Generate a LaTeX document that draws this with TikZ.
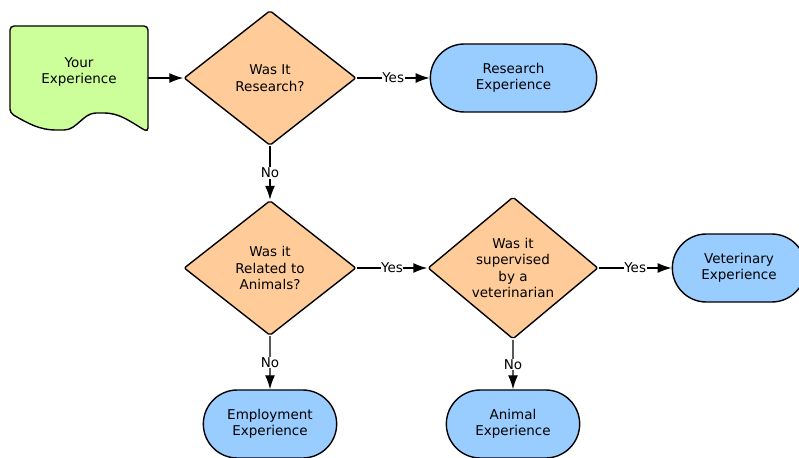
\documentclass[tikz,border=0pt]{standalone}
\usepackage{fontspec}
\setmainfont{DejaVu Sans}
\usetikzlibrary{arrows.meta,shapes.geometric,shapes.misc}
\definecolor{docgreen}{RGB}{204,255,153}
\definecolor{askorange}{RGB}{255,204,153}
\definecolor{endblue}{RGB}{153,204,255}
\tikzset{
	ask/.style={diamond, draw, fill=askorange, line width=1.4pt, rounded corners=2pt, minimum width=172pt, minimum height=135pt, inner sep=0pt, align=center},
	goal/.style={rounded rectangle, draw, fill=endblue, line width=1.4pt, minimum width=140pt, minimum height=68pt, align=center},
	flow/.style={line width=1.4pt, -{Latex[length=14pt,width=10pt]}},
	lbl/.style={fill=white, inner sep=0.5pt},
}

\begin{document}
\begin{tikzpicture}[x=1pt, y=-1pt, font=\fontsize{13.5}{16.5}\selectfont]
			%%%%% START %%%%%
			\useasboundingbox (0,0) rectangle (799,457);
			
			% the document shape
			\draw[fill=docgreen, line width=1.4pt, rounded corners=4pt] (10,113) -- (10,26) -- (148,26) -- (148,132)
				to[out=150, in=0] (100,113) to[out=180, in=0] (60,130) to[out=180, in=-30] (10,113) -- cycle;
			\node[align=center, minimum width=138pt, minimum height=92pt, inner sep=0pt] (start) at (79,72) {Your\\Experience};
			
			% questions
			\node[ask] (q1) at (270,78) {Was It\\Research?};
			\node[ask] (q2) at (270,268) {Was it\\Related to\\Animals?};
			\node[ask, minimum width=170pt] (q3) at (513,268) {Was it\\supervised\\by a\\veterinarian};
			
			% outcomes
			\node[goal, minimum width=173pt] (research) at (513.5,78) {Research\\Experience};
			\node[goal] (vet) at (739,268) {Veterinary\\Experience};
			\node[goal] (employ) at (270,424) {Employment\\Experience};
			\node[goal] (animal) at (513,424) {Animal\\Experience};
			
			% arrows
			\draw[flow] ([yshift=-6pt]start.east) -- (q1);
			\draw[flow] (q1) -- node[lbl] {Yes} (research);
			\draw[flow] (q1) -- node[lbl] {No} (q2);
			\draw[flow] (q2) -- node[lbl] {Yes} (q3);
			\draw[flow] (q3) -- node[lbl] {Yes} (vet);
			\draw[flow] (q2) -- node[lbl] {No} (employ);
			\draw[flow] (q3) -- node[lbl] {No} (animal);
			
			%%%%% END %%%%%
\end{tikzpicture}
\end{document}
